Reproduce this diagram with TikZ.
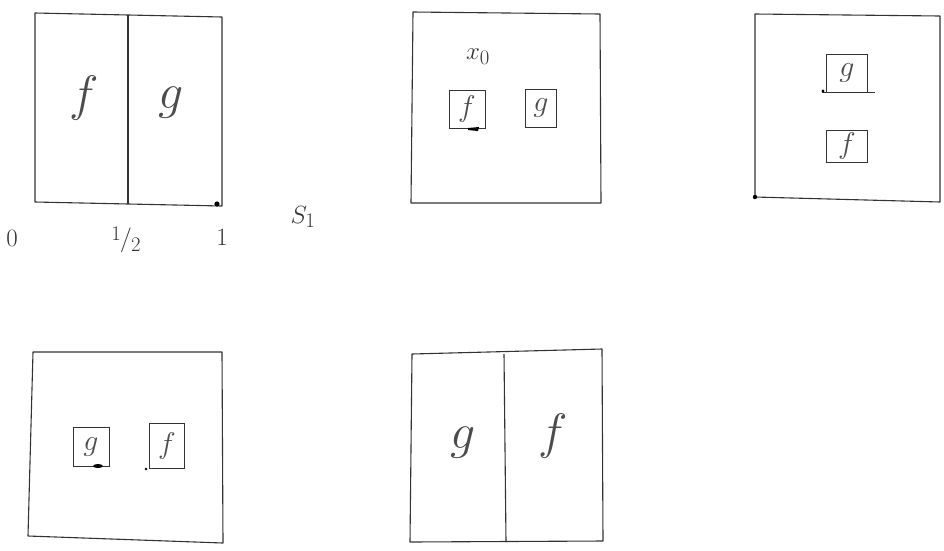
\documentclass[tikz,border=0pt]{standalone}
\usepackage{graphicx}
\newcommand\bigletter[1]{\scalebox{2.0}{$#1$}}
\newcommand\smallletter[1]{\scalebox{1.2}{$#1$}}
\begin{document}
\begin{tikzpicture}[x=1pt,y=-1pt,
  frame/.style={draw=black!80,line width=1.1pt,line join=round},
  inner/.style={draw=black!80,line width=1pt},
  bigl/.style={font=\Huge,text=black!70},
  smalll/.style={font=\Huge,text=black!70},
  lab/.style={font=\Huge,text=black!80},
  pt/.style={fill=black,draw=none}]
\useasboundingbox (0,0) rectangle (944,550);
% ---------- panel 1
\coordinate (a1) at (35,13); \coordinate (a2) at (222,17);
\coordinate (a3) at (222,206); \coordinate (a4) at (35,202);
\draw[frame] (a1) -- (a2) -- (a3) -- (a4) -- cycle;
\coordinate (d1) at (128,15); \coordinate (d2) at (128,204);
\draw[frame] (d1) -- (d2);
\node[bigl] (f1) at (84,98) {\bigletter{f}};
\node[bigl] (g1) at (171,103) {\bigletter{g}};
\fill[pt] (217,204) circle (2.6);
\node[lab] (l0) at (12,238) {$0$};
\node[lab,inner sep=0pt] (lh) at (126,240) {\raisebox{6pt}{$\scriptstyle 1$}\kern-1pt$/$\kern-1pt\raisebox{-5pt}{$\scriptstyle 2$}};
\node[lab] (l1) at (222,237) {$1$};
\node[lab] (s1) at (303,217) {$S_1$};
% ---------- panel 2
\coordinate (b1) at (413,12); \coordinate (b2) at (600,14);
\coordinate (b3) at (601,203); \coordinate (b4) at (411,203);
\draw[frame] (b1) -- (b2) -- (b3) -- (b4) -- cycle;
\node[lab] (x0) at (478,57) {$x_0$};
\node[inner,minimum width=36,minimum height=38,inner sep=0pt,smalll] (bf) at (467,109) {\smallletter{f}};
\node[inner,minimum width=31,minimum height=38,inner sep=0pt,smalll] (bg) at (541,108) {\smallletter{g}};
\fill[pt] (468,128) -- (479,127) -- (478,131) -- (468,130) -- cycle;
% ---------- panel 3
\coordinate (c1) at (755,14); \coordinate (c2) at (940,16);
\coordinate (c3) at (940,202); \coordinate (c4) at (755,197);
\draw[frame] (c1) -- (c2) -- (c3) -- (c4) -- cycle;
\node[inner,minimum width=41,minimum height=38,inner sep=0pt,smalll] (cg) at (847,73) {\smallletter{g}};
\node[inner,minimum width=41,minimum height=32,inner sep=0pt,smalll] (cf) at (847,146) {\smallletter{f}};
\draw[inner] (cg.south west) ++(-4,0) -- ++(53,0);
\fill[pt] (823,91) circle (1.6);
\fill[pt] (755,197) circle (2.2);
% ---------- panel 4
\coordinate (e1) at (33,352); \coordinate (e2) at (222,352);
\coordinate (e3) at (223,543); \coordinate (e4) at (28,536);
\draw[frame] (e1) -- (e2) -- (e3) -- (e4) -- cycle;
\node[inner,minimum width=36,minimum height=39,inner sep=0pt,smalll] (eg) at (91,447) {\smallletter{g}};
\node[inner,minimum width=35,minimum height=45,inner sep=0pt,smalll] (ef) at (167,446) {\smallletter{f}};
\fill[pt] (98,466) ellipse (5 and 2);
\fill[pt] (146,469) circle (1.4);
% ---------- panel 5
\coordinate (h1) at (412,354); \coordinate (h2) at (602,349);
\coordinate (h3) at (603,541); \coordinate (h4) at (410,542);
\draw[frame] (h1) -- (h2) -- (h3) -- (h4) -- cycle;
\coordinate (k1) at (504,354); \coordinate (k2) at (506,542);
\draw[frame] (k1) -- (k2);
\node[bigl] (g5) at (463,443) {\bigletter{g}};
\node[bigl] (f5) at (553,436) {\bigletter{f}};
\end{tikzpicture}
\end{document}
